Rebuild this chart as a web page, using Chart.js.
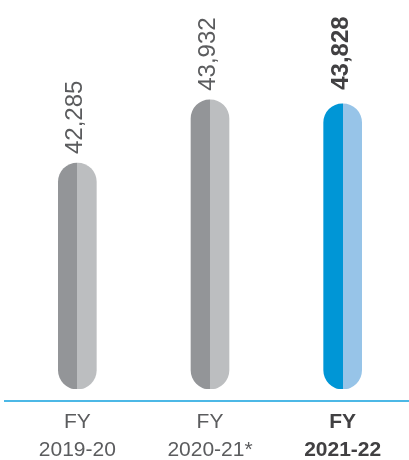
<!DOCTYPE html>
<html>
<head>
<meta charset="utf-8">
<script src="https://cdn.jsdelivr.net/npm/chart.js@4.4.0/dist/chart.umd.min.js"></script>
<style>
  html, body { margin: 0; padding: 0; background: #fff; }
  #wrap { width: 409px; height: 460px; }
</style>
</head>
<body>
<div id="wrap"><canvas id="chart"></canvas></div>
<script>
// Daten
const years = [['FY', '2019-20'], ['FY', '2020-21*'], ['FY', '2021-22']];
const values = [42285, 43932, 43828];
const highlight = 2; // aktuelles Jahr, fett
const yMin = 36400;
const yMax = 46530;

// Farben
const darkColors = ['#939598', '#939598', '#0096d6'];
const lightColors = ['#bcbec0', '#bcbec0', '#97c4e8'];
const textColor = '#5b5c5e';
const boldColor = '#414042';
const axisColor = '#4cb8e6';
const family = '"Liberation Sans", Arial, sans-serif';
const barW = 38;

// linke Hälfte dunkel, rechte hell
function halfFill(c) {
    if (c.type !== 'data' || !c.chart.scales.x) return darkColors[0];
    var i = c.dataIndex;
    var x = c.chart.scales.x.getPixelForValue(i);
    if (!isFinite(x)) return darkColors[i];
    var g = c.chart.ctx.createLinearGradient(x - barW / 2, 0, x + barW / 2, 0);
    g.addColorStop(0, darkColors[i]);
    g.addColorStop(0.5, darkColors[i]);
    g.addColorStop(0.5, lightColors[i]);
    g.addColorStop(1, lightColors[i]);
    return g;
}

// Grundlinie + gedrehte Werte über den Balken
const decor = {
    id: 'decor',
    afterDatasetsDraw(chart) {
        var ctx = chart.ctx;
        var area = chart.chartArea;
        ctx.save();
        ctx.strokeStyle = axisColor;
        ctx.lineWidth = 2;
        ctx.beginPath();
        ctx.moveTo(4, area.bottom + 12);
        ctx.lineTo(chart.width, area.bottom + 12);
        ctx.stroke();
        chart.getDatasetMeta(0).data.forEach(function (bar, i) {
            var bold = i === highlight;
            ctx.save();
            ctx.translate(bar.x + 5, bar.y - (bold ? 14 : 9));
            ctx.rotate(-Math.PI / 2);
            ctx.font = (bold ? 'bold ' : '') + '24px ' + family;
            ctx.fillStyle = bold ? boldColor : textColor;
            ctx.textAlign = 'left';
            ctx.textBaseline = 'alphabetic';
            ctx.fillText(values[i].toLocaleString('en-US'), 0, 0);
            ctx.restore();
        });
        ctx.restore();
    }
};

new Chart('chart', {
    type: 'bar',
    data: {
        labels: years,
        datasets: [{
            data: values,
            base: yMin,
            backgroundColor: halfFill,
            borderRadius: barW / 2,
            borderSkipped: false,
            barThickness: barW
        }]
    },
    options: {
        responsive: true,
        maintainAspectRatio: false,
        animation: false,
        layout: { padding: { left: 11, right: 0, top: 0, bottom: 0 } },
        plugins: { legend: { display: false }, tooltip: { enabled: false } },
        scales: {
            x: {
                grid: { display: false, drawTicks: false },
                border: { display: false },
                ticks: {
                    padding: 19,
                    color: function (c) { return c.index === highlight ? boldColor : textColor; },
                    font: function (c) {
                        return { family: family, size: 21, weight: c.index === highlight ? 'bold' : 'normal', lineHeight: 28 / 21 };
                    }
                },
                afterFit: function (s) { s.height = 71; }
            },
            y: { display: false, min: yMin, max: yMax }
        }
    },
    plugins: [decor]
});
</script>
</body>
</html>
